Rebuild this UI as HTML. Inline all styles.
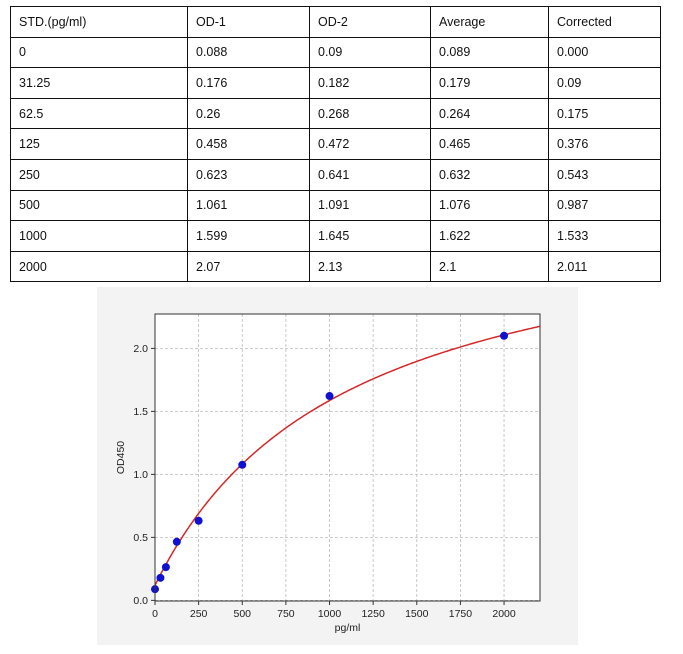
<!DOCTYPE html>
<html><head><meta charset="utf-8"><style>
body{margin:0;width:683px;height:654px;background:#fff;position:relative;font-family:"Liberation Sans",sans-serif;overflow:hidden}
table{position:absolute;left:10px;top:6px;border-collapse:collapse;font-size:12.5px;color:#111}
td{border:1.3px solid #111;height:29.6px;padding:0 0 0 8px;vertical-align:middle}
#panel{position:absolute;left:97px;top:287px;width:481px;height:358px;background:#f3f3f3}
svg{position:absolute;left:0;top:0}
</style></head><body>
<table>
<colgroup><col style="width:177px"><col style="width:122px"><col style="width:121px"><col style="width:118px"><col style="width:112px"></colgroup>
<tr><td>STD.(pg/ml)</td><td>OD-1</td><td>OD-2</td><td>Average</td><td>Corrected</td></tr>
<tr><td>0</td><td>0.088</td><td>0.09</td><td>0.089</td><td>0.000</td></tr>
<tr><td>31.25</td><td>0.176</td><td>0.182</td><td>0.179</td><td>0.09</td></tr>
<tr><td>62.5</td><td>0.26</td><td>0.268</td><td>0.264</td><td>0.175</td></tr>
<tr><td>125</td><td>0.458</td><td>0.472</td><td>0.465</td><td>0.376</td></tr>
<tr><td>250</td><td>0.623</td><td>0.641</td><td>0.632</td><td>0.543</td></tr>
<tr><td>500</td><td>1.061</td><td>1.091</td><td>1.076</td><td>0.987</td></tr>
<tr><td>1000</td><td>1.599</td><td>1.645</td><td>1.622</td><td>1.533</td></tr>
<tr><td>2000</td><td>2.07</td><td>2.13</td><td>2.1</td><td>2.011</td></tr>
</table>
<div id="panel"></div>
<svg id="chart" width="683" height="654"></svg>
<script>
const concentrations=[0,31.25,62.5,125,250,500,1000,2000];
const odValues=[0.089,0.179,0.264,0.465,0.632,1.076,1.622,2.1];
const xTicks=[0,250,500,750,1000,1250,1500,1750,2000];
const yTicks=[0,0.5,1.0,1.5,2.0];
const fitParams=[0.12,1.0,1100,3.2]; // a,b,c,d of 4PL
const L=155,R=540,T=314,B=601,XMAX=2206,YMIN=-0.005,YMAX=2.273;
const sx=v=>L+(v/XMAX)*(R-L), sy=v=>B-(v-YMIN)/(YMAX-YMIN)*(B-T);
const ns="http://www.w3.org/2000/svg",svg=document.getElementById('chart');
function mk(t,a,p){const e=document.createElementNS(ns,t);for(const k in a)e.setAttribute(k,a[k]);(p||svg).appendChild(e);return e;}
let bg=mk('rect',{x:L,y:T,width:R-L,height:B-T,fill:'#fff'});


xTicks.forEach(t=>{const x=sx(t);
 let g=mk('line',{x1:x,x2:x,y1:T,y2:B,stroke:'#bbb','stroke-dasharray':'3,2','stroke-width':0.8});
 
 
 mk('line',{x1:x,x2:x,y1:B,y2:B+4,stroke:'#333'});
 let l=mk('text',{x:x,y:B+16,'text-anchor':'middle','font-size':10.5,fill:'#222'});l.textContent=t;
 
 });
yTicks.forEach(t=>{const y=sy(t);
 let g=mk('line',{x1:L,x2:R,y1:y,y2:y,stroke:'#bbb','stroke-dasharray':'3,2','stroke-width':0.8});
 
 
 mk('line',{x1:L-4,x2:L,y1:y,y2:y,stroke:'#333'});
 let l=mk('text',{x:L-7,y:y+3.5,'text-anchor':'end','font-size':10.5,fill:'#222'});l.textContent=t.toFixed(1);
 
 });
const [a,b,c,d]=fitParams;let pts=[];
for(let i=0;i<=220;i++){const x=XMAX*i/220;const y=d+(a-d)/(1+Math.pow(x/c,b));pts.push(sx(x).toFixed(1)+','+sy(y).toFixed(1));}
let cv=mk('polyline',{points:pts.join(' '),fill:'none',stroke:'#d62728','stroke-width':1.5});


concentrations.forEach((x,i)=>{let p=mk('circle',{cx:sx(x),cy:sy(odValues[i]),r:4,fill:'#1010d0'});
 
 });
let fr=mk('rect',{x:L,y:T,width:R-L,height:B-T,fill:'none',stroke:'#333','stroke-width':1});


let xt=mk('text',{x:(L+R)/2,y:B+30,'text-anchor':'middle','font-size':10.5,fill:'#222'});xt.textContent='pg/ml';


let yt=mk('text',{x:0,y:0,'text-anchor':'middle','font-size':10.5,fill:'#222',transform:`translate(124,${(T+B)/2}) rotate(-90)`});yt.textContent='OD450';


</script>
</body></html>
